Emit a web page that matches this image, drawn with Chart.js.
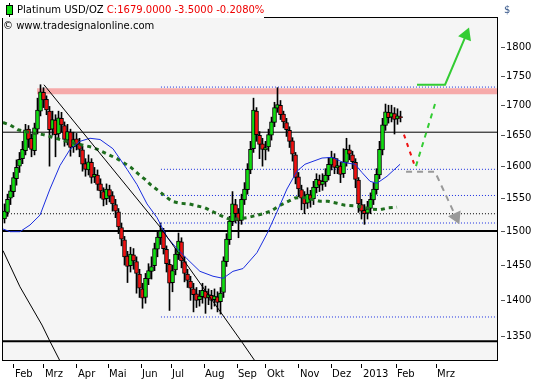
<!DOCTYPE html>
<html>
<head>
<meta charset="utf-8">
<script src="https://cdn.jsdelivr.net/npm/chart.js@4.4.0/dist/chart.umd.min.js"></script>
<style>
  html, body { margin: 0; padding: 0; background: #fff; }
  canvas { display: block; }
</style>
</head>
<body>
<canvas id="platinumChart" width="533" height="380"></canvas>
<script>
// x axis is a trading-day index (one candle every 2 days)
const monthTicks = [7.3, 27.3, 49.3, 70, 92, 112, 134, 156, 175.3, 197.3, 218.7, 239.3, 262, 288.7];
const monthLabels = ['Feb', 'Mrz', 'Apr', 'Mai', 'Jun', 'Jul', 'Aug', 'Sep', 'Okt', 'Nov', 'Dez', '2013', 'Feb', 'Mrz'];
const priceTicks = [1350, 1400, 1450, 1500, 1550, 1600, 1650, 1700, 1750, 1800];

const opens = [1518, 1528, 1550, 1560, 1580, 1600, 1612, 1625, 1660, 1645, 1625, 1660, 1690, 1722, 1710, 1690, 1660, 1675, 1652, 1678,
  1666, 1642, 1655, 1631, 1644, 1636, 1626, 1604, 1594, 1606, 1583, 1586, 1572, 1560, 1549, 1563, 1554, 1540, 1529, 1505,
  1487, 1463, 1449, 1465, 1455, 1437, 1416, 1404, 1430, 1441, 1449, 1473, 1490, 1499, 1473, 1451, 1425, 1443, 1465, 1484,
  1455, 1437, 1427, 1416, 1409, 1401, 1405, 1413, 1404, 1407, 1401, 1405, 1398, 1411, 1455, 1487, 1514, 1540, 1527, 1516,
  1547, 1563, 1594, 1628, 1690, 1650, 1636, 1626, 1631, 1650, 1671, 1695, 1700, 1685, 1671, 1658, 1641, 1618, 1583, 1563,
  1551, 1542, 1555, 1549, 1566, 1578, 1571, 1575, 1585, 1602, 1613, 1597, 1600, 1588, 1606, 1626, 1618, 1606, 1578, 1540,
  1531, 1527, 1534, 1547, 1563, 1586, 1626, 1666, 1688, 1680, 1686, 1677, 1681];
const highs = [1541, 1556, 1570, 1590, 1610, 1622, 1640, 1668, 1666, 1652, 1670, 1712, 1735, 1730, 1716, 1698, 1690, 1684, 1690, 1688,
  1672, 1668, 1660, 1655, 1653, 1645, 1632, 1612, 1618, 1612, 1598, 1594, 1580, 1566, 1572, 1570, 1560, 1548, 1534, 1512,
  1492, 1470, 1476, 1474, 1462, 1444, 1424, 1438, 1452, 1462, 1482, 1498, 1512, 1504, 1478, 1458, 1450, 1474, 1497, 1490,
  1462, 1444, 1434, 1424, 1418, 1414, 1424, 1420, 1416, 1414, 1416, 1412, 1418, 1462, 1496, 1522, 1560, 1548, 1534, 1556,
  1574, 1604, 1640, 1712, 1696, 1656, 1645, 1640, 1660, 1680, 1705, 1730, 1708, 1690, 1678, 1664, 1646, 1622, 1590, 1570,
  1560, 1566, 1562, 1576, 1588, 1586, 1588, 1596, 1614, 1624, 1620, 1612, 1606, 1628, 1645, 1634, 1624, 1612, 1582, 1548,
  1540, 1545, 1558, 1574, 1596, 1640, 1678, 1702, 1700, 1700, 1696, 1694, 1690];
const lows = [1512, 1522, 1540, 1552, 1570, 1590, 1604, 1618, 1630, 1615, 1618, 1652, 1682, 1696, 1684, 1600, 1650, 1615, 1645, 1655,
  1632, 1634, 1616, 1622, 1626, 1615, 1592, 1584, 1586, 1573, 1574, 1562, 1550, 1538, 1540, 1544, 1530, 1520, 1496, 1478,
  1450, 1425, 1440, 1444, 1410, 1404, 1389, 1396, 1422, 1430, 1442, 1462, 1480, 1466, 1440, 1386, 1412, 1436, 1458, 1446,
  1426, 1418, 1400, 1384, 1390, 1392, 1396, 1382, 1394, 1388, 1392, 1384, 1381, 1404, 1448, 1480, 1508, 1512, 1490, 1510,
  1540, 1556, 1588, 1622, 1640, 1612, 1600, 1610, 1624, 1642, 1664, 1688, 1676, 1662, 1648, 1630, 1608, 1572, 1552, 1532,
  1526, 1534, 1536, 1540, 1558, 1560, 1562, 1568, 1578, 1594, 1588, 1588, 1574, 1582, 1600, 1610, 1596, 1566, 1528, 1518,
  1510, 1518, 1526, 1540, 1556, 1580, 1618, 1658, 1670, 1672, 1652, 1668, 1672];
const closes = [1530, 1548, 1561, 1582, 1598, 1611, 1627, 1659, 1643, 1627, 1662, 1692, 1723, 1709, 1692, 1659, 1676, 1651, 1679, 1667,
  1643, 1656, 1630, 1643, 1635, 1627, 1603, 1595, 1607, 1582, 1587, 1571, 1561, 1548, 1564, 1553, 1541, 1530, 1506, 1488,
  1462, 1448, 1466, 1456, 1438, 1417, 1403, 1431, 1442, 1448, 1474, 1491, 1500, 1474, 1452, 1424, 1442, 1466, 1485, 1456,
  1438, 1428, 1417, 1408, 1400, 1406, 1414, 1403, 1408, 1400, 1406, 1397, 1410, 1456, 1488, 1515, 1541, 1526, 1515, 1548,
  1564, 1595, 1627, 1692, 1651, 1635, 1627, 1630, 1651, 1672, 1696, 1701, 1684, 1672, 1659, 1640, 1619, 1582, 1564, 1550,
  1541, 1556, 1548, 1567, 1579, 1570, 1576, 1586, 1603, 1614, 1598, 1601, 1587, 1607, 1627, 1619, 1607, 1579, 1541, 1530,
  1526, 1533, 1548, 1564, 1587, 1627, 1667, 1689, 1679, 1687, 1676, 1682, 1679];

// moving averages [day, price]
const blueAvg = [[0, 1503], [4.7, 1499], [11.3, 1499], [18, 1509], [24.7, 1524], [31.3, 1564], [38, 1601], [44.7, 1627],
  [51.3, 1640], [58, 1645], [64.7, 1643], [73.3, 1628], [82.7, 1595], [89.3, 1571], [96, 1541], [102.7, 1520],
  [109.3, 1491], [116, 1474], [122.7, 1459], [131.3, 1441], [140, 1434], [146.7, 1431], [153.3, 1441], [160, 1445],
  [169.3, 1468], [176, 1496], [182.7, 1529], [189.3, 1564], [196, 1592], [201.3, 1603], [212.7, 1613], [219.3, 1614],
  [226.7, 1606], [234.7, 1603], [239.3, 1590], [244.7, 1576], [249.3, 1573], [256, 1584], [264.7, 1603]];
const greenAvg = [[0, 1671], [4.7, 1667], [10, 1659], [14.7, 1656], [21.3, 1653], [26.7, 1651], [31.3, 1648], [38, 1643],
  [44.7, 1638], [49.3, 1636], [54.7, 1633], [60, 1630], [64.7, 1625], [76, 1612], [80, 1606], [85.3, 1598], [90, 1588],
  [94.7, 1579], [98.7, 1570], [103.3, 1562], [108, 1553], [112.7, 1545], [118, 1542], [124, 1541], [129.3, 1538],
  [134.7, 1535], [140, 1529], [145.3, 1523], [150.7, 1518], [156.7, 1518], [162.7, 1520], [168, 1523], [173.3, 1526],
  [178.7, 1530], [184, 1538], [189.3, 1544], [194.7, 1550], [200, 1551], [206, 1548], [211.3, 1545], [216.7, 1545],
  [222.7, 1542], [228, 1539], [234.7, 1538], [240, 1536], [246, 1533], [251.3, 1532], [256.7, 1535], [262.7, 1536]];

// trend lines and levels
const trendHigh = [[27.3, 1735], [104.7, 1506], [159.3, 1343], [168, 1318]];
const trendLow = [[0, 1471], [11.3, 1419], [26, 1366], [31.3, 1344], [38, 1318]];
const resistanceBand = 1724;
const solidLevel = 1655;
const thickLevels = [1500, 1344];
const blueDotLevels = [1731, 1595, 1554, 1512, 1377];
const blackDotLevel = 1526;

// projections
const redPath = [[267.3, 1651], [274, 1604]];
const greenPath = [[275.3, 1600], [288, 1702]];
const greenArrow = [[276, 1735], [294.7, 1735], [308.7, 1823]];
const grayArrow = [[268.7, 1591], [288, 1591], [302, 1521]];

const FONT = { family: '"DejaVu Sans", sans-serif', size: 10 };
const XMIN = -0.67, XMAX = 330;
const pts = (arr) => arr.map(([x, y]) => ({ x, y }));
const hline = (y, x0) => [{ x: x0, y }, { x: XMAX, y }];

const candleX = closes.map((_, i) => 1 + i * 2);
const wicks = closes.map((_, i) => ({ x: candleX[i], y: [lows[i], highs[i]] }));
const bodies = closes.map((c, i) => ({ x: candleX[i], y: [opens[i], c] }));
const bodyColors = closes.map((c, i) => (c >= opens[i] ? '#11dd11' : '#ee1111'));

const lineDs = (data, color, width, dash, order, extra) => Object.assign({
  type: 'line', data, borderColor: color, backgroundColor: color, borderWidth: width,
  borderDash: dash || [], pointRadius: 0, tension: 0, order,
}, extra || {});

const datasets = [
  lineDs(hline(resistanceBand, 22.7), '#f6aaaa', 6, null, 20),
  lineDs(hline(solidLevel, XMIN), '#000', 1, null, 19),
  ...thickLevels.map((v) => lineDs(hline(v, XMIN), '#000', 2, null, 19)),
  ...blueDotLevels.map((v) => lineDs(hline(v, 105.3), '#1a2ee0', 1, [1, 2], 19)),
  lineDs(hline(blackDotLevel, 3.3), '#000', 1, [1, 2], 19),
  {
    type: 'bar', data: wicks, backgroundColor: '#000', barThickness: 1,
    grouped: false, order: 12,
  },
  {
    type: 'bar', data: bodies, backgroundColor: bodyColors, borderColor: '#000',
    borderWidth: 1, borderSkipped: false, barThickness: 4, grouped: false, order: 11,
  },
  lineDs(pts(blueAvg), '#1a2ee0', 1, null, 5),
  lineDs(pts(greenAvg), '#1e6e1e', 3, [4, 4], 5),
  lineDs(pts(trendHigh), '#000', 1, null, 4),
  lineDs(pts(trendLow), '#000', 1, null, 4),
  lineDs(pts(redPath), '#ee1111', 2, [4, 5], 3),
  lineDs(pts(greenPath), '#33cc33', 2, [5, 5], 3),
  lineDs(pts(greenArrow), '#33cc33', 2, null, 3, {
    pointStyle: 'triangle', pointRotation: 22,
    pointRadius: (c) => (c.dataIndex === greenArrow.length - 1 ? 6 : 0),
  }),
  lineDs(pts(grayArrow), '#999999', 2, [6, 5], 3, {
    pointStyle: 'triangle', pointRotation: 155,
    pointRadius: (c) => (c.dataIndex === grayArrow.length - 1 ? 6 : 0),
  }),
];

const frame = {
  id: 'frame',
  beforeDraw(chart) {
    const { ctx, chartArea: a } = chart;
    ctx.save();
    ctx.fillStyle = '#fff';
    ctx.fillRect(0, 0, chart.width, chart.height);
    ctx.fillStyle = '#f5f5f5';
    ctx.fillRect(a.left, a.top, a.right - a.left, a.bottom - a.top);
    ctx.restore();
  },
  afterDraw(chart) {
    const { ctx, chartArea: a } = chart;
    ctx.save();
    ctx.strokeStyle = '#000';
    ctx.lineWidth = 1;
    ctx.strokeRect(a.left + 0.5, a.top + 0.5, a.right - a.left - 1, a.bottom - a.top - 1);
    // header box sits over the top-left of the frame
    ctx.fillStyle = '#fff';
    ctx.fillRect(0, 0, 264, 18);
    ctx.font = '10px "DejaVu Sans"';
    ctx.textBaseline = 'middle';
    ctx.fillStyle = '#000';
    ctx.fillRect(9, 3, 1, 14);
    ctx.fillStyle = '#11dd11';
    ctx.fillRect(7, 6, 5, 8);
    ctx.strokeRect(6.5, 5.5, 6, 9);
    ctx.fillStyle = '#000';
    const name = 'Platinum USD/OZ ';
    ctx.fillText(name, 17, 10);
    ctx.fillStyle = '#ee0000';
    ctx.fillText('C:1679.0000 -3.5000 -0.2080%', 17 + ctx.measureText(name).width, 10);
    ctx.fillStyle = '#000';
    ctx.fillText('\u00a9 www.tradesignalonline.com', 3, 26);
    ctx.fillStyle = '#3a5a8c';
    ctx.fillText('$', 504, 10);
    ctx.restore();
  },
};

new Chart(document.getElementById('platinumChart'), {
  data: { datasets },
  plugins: [frame],
  options: {
    responsive: false,
    animation: false,
    devicePixelRatio: 1,
    layout: { autoPadding: false, padding: { top: 17, left: 2, right: 0, bottom: 0 } },
    plugins: { legend: { display: false }, tooltip: { enabled: false } },
    scales: {
      x: {
        type: 'linear', position: 'bottom', weight: 1, min: XMIN, max: XMAX, offset: false,
        afterBuildTicks: (s) => { s.ticks = monthTicks.map((v) => ({ value: v })); },
        afterFit: (s) => { s.height = 16; s.paddingLeft = 0; s.paddingRight = 0; },
        ticks: {
          autoSkip: false, maxRotation: 0, align: 'start', padding: 0, labelOffset: 1,
          font: FONT, color: '#000', callback: (v, i) => monthLabels[i],
        },
        grid: { drawOnChartArea: false, offset: false, tickLength: 4, color: '#000' },
        border: { display: false },
      },
      xPad: {
        type: 'linear', position: 'bottom', weight: 0, offset: false,
        afterFit: (s) => { s.height = 3; s.paddingLeft = 0; s.paddingRight = 0; },
        ticks: { display: false }, grid: { display: false }, border: { display: false },
      },
      y: {
        type: 'logarithmic', position: 'right', weight: 1, min: 1318, max: 1856,
        afterBuildTicks: (s) => { s.ticks = priceTicks.map((v) => ({ value: v })); },
        afterFit: (s) => { s.width = 32; s.paddingTop = 0; s.paddingBottom = 0; },
        ticks: { autoSkip: false, padding: 1, font: FONT, color: '#000', callback: (v) => String(v) },
        grid: { drawOnChartArea: false, tickLength: 4, color: '#555' },
        border: { display: false },
      },
      yPad: {
        type: 'linear', position: 'right', weight: 0,
        afterFit: (s) => { s.width = 3; s.paddingTop = 0; s.paddingBottom = 0; },
        ticks: { display: false }, grid: { display: false }, border: { display: false },
      },
    },
  },
});
</script>
</body>
</html>
